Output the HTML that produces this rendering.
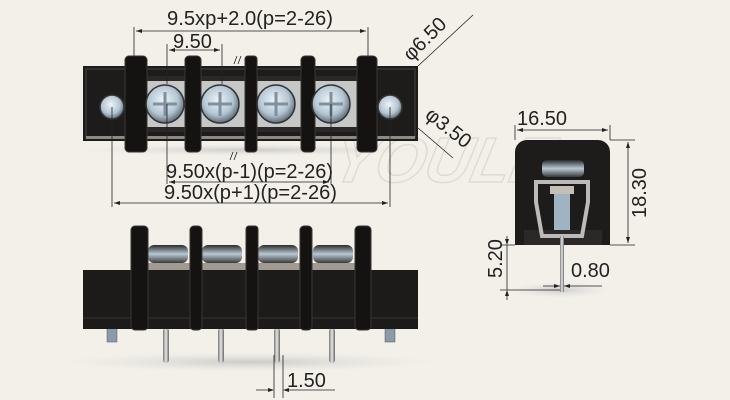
<!DOCTYPE html>
<html><head><meta charset="utf-8"><style>
html,body{margin:0;padding:0;background:#f3f0e9;}
svg{display:block}
text{font-family:"Liberation Sans",sans-serif;fill:#222;}
</style></head><body>
<svg width="730" height="400" viewBox="0 0 730 400" xmlns="http://www.w3.org/2000/svg">
<defs>
<radialGradient id="scr" cx="45%" cy="40%" r="60%"><stop offset="0" stop-color="#eef4f8"/><stop offset="0.65" stop-color="#b3c5d2"/><stop offset="1" stop-color="#5d6b76"/></radialGradient>
<linearGradient id="pin" x1="0" x2="1"><stop offset="0" stop-color="#777"/><stop offset="0.5" stop-color="#e8e8e8"/><stop offset="1" stop-color="#666"/></linearGradient>
<linearGradient id="head" x1="0" y1="0" x2="0" y2="1"><stop offset="0" stop-color="#2a2a2a"/><stop offset="0.5" stop-color="#b8c8d4"/><stop offset="1" stop-color="#3a3a3a"/></linearGradient>
<radialGradient id="shadow" cx="50%" cy="50%" r="50%"><stop offset="0" stop-color="#bbb" stop-opacity="0.7"/><stop offset="1" stop-color="#ddd" stop-opacity="0"/></radialGradient>
</defs>

<!-- watermark -->
<text x="330" y="182" font-size="64" font-style="italic" font-weight="bold" style="fill:none;stroke:#dedbd4;stroke-width:1.5" transform="skewX(-12) translate(38,0)">YOULE</text>

<!-- TOP VIEW -->
<ellipse cx="250" cy="150" rx="180" ry="6" fill="url(#shadow)"/>
<rect x="83" y="66" width="335" height="75" fill="#1e1c1b"/>
<rect x="86" y="69" width="329" height="69" fill="none" stroke="#444" stroke-width="1"/>
<rect x="86" y="136" width="329" height="3" fill="#8d8a86"/>
<g fill="#c6c8c8">
<rect x="146" y="78" width="40" height="52"/><rect x="200" y="78" width="46" height="52"/>
<rect x="256" y="78" width="46" height="52"/><rect x="314" y="78" width="44" height="52"/>
</g>
<g fill="#2a2726">
<rect x="146" y="76" width="212" height="5"/><rect x="146" y="127" width="212" height="5"/>
</g>
<g fill="#151312" stroke="#3a3634" stroke-width="1">
<rect x="125" y="56" width="22" height="96" rx="4"/>
<rect x="185" y="56" width="16" height="96" rx="4"/>
<rect x="245" y="56" width="12" height="96" rx="3"/>
<rect x="301" y="56" width="14" height="96" rx="4"/>
<rect x="357" y="56" width="20" height="96" rx="4"/>
</g>
<g stroke="#333" stroke-width="1.5">
<circle cx="112" cy="107" r="12" fill="url(#scr)"/>
<circle cx="390" cy="107" r="12" fill="url(#scr)"/>
<circle cx="165" cy="104" r="19" fill="url(#scr)"/>
<circle cx="220" cy="104" r="19" fill="url(#scr)"/>
<circle cx="276" cy="104" r="19" fill="url(#scr)"/>
<circle cx="331" cy="104" r="19" fill="url(#scr)"/>
</g>
<g stroke="#7f909e" stroke-width="3">
<path d="M165 92v24M153 104h24M220 92v24M208 104h24M276 92v24M264 104h24M331 92v24M319 104h24"/>
</g>

<!-- dims top -->
<g stroke="#222" stroke-width="0.8" fill="none">
<path d="M134 27v30M368 27v30M136 31h230"/>
<path d="M167 44v40M222 44v40M169 50h51"/>
<path d="M167 104v80M331 104v80M169 182h160"/>
<path d="M112 107v100M390 107v100M114 203h274"/>
<path d="M418 66l55-51M418 128l35 30"/>
<path d="M234 64l3-8M238 64l3-8M230 160l3-8M234 160l3-8"/>
</g>
<path d="M136 31l6-2v4zM366 31l-6-2v4zM169 50l6-2v4zM220 50l-6-2v4zM169 182l6-2v4zM329 182l-6-2v4zM114 203l6-2v4zM388 203l-6-2v4z" fill="#222"/>
<text x="167" y="25" font-size="20" textLength="166" lengthAdjust="spacingAndGlyphs">9.5xp+2.0(p=2-26)</text>
<text x="173" y="48" font-size="20">9.50</text>
<text x="166" y="178" font-size="20" textLength="167" lengthAdjust="spacingAndGlyphs">9.50x(p-1)(p=2-26)</text>
<text x="164" y="199" font-size="20" textLength="173" lengthAdjust="spacingAndGlyphs">9.50x(p+1)(p=2-26)</text>
<text x="0" y="0" font-size="20" transform="translate(411,62) rotate(-45)">φ6.50</text>
<text x="0" y="0" font-size="20" transform="translate(424,117) rotate(38)">φ3.50</text>

<!-- BOTTOM VIEW -->
<ellipse cx="250" cy="362" rx="190" ry="10" fill="url(#shadow)"/>
<g fill="url(#pin)">
<rect x="163" y="328" width="6" height="35" rx="3"/><rect x="218" y="328" width="6" height="35" rx="3"/>
<rect x="274" y="328" width="6" height="35" rx="3"/><rect x="329" y="328" width="6" height="35" rx="3"/>
</g>
<g fill="#8a9aa6" stroke="#556" stroke-width="0.5">
<rect x="107" y="328" width="10" height="14"/><rect x="385" y="328" width="10" height="14"/>
</g>
<g fill="url(#head)">
<rect x="148" y="245" width="40" height="18" rx="6"/><rect x="202" y="245" width="40" height="18" rx="6"/>
<rect x="258" y="245" width="40" height="18" rx="6"/><rect x="313" y="245" width="40" height="18" rx="6"/>
</g>
<rect x="146" y="263" width="212" height="7" fill="#a09a90"/>
<rect x="83" y="270" width="335" height="59" fill="#1d1b1a"/>
<path d="M83 318h335" stroke="#333"/>
<g fill="#151312" stroke="#3a3634" stroke-width="1">
<rect x="131" y="226" width="17" height="104" rx="4"/>
<rect x="190" y="226" width="12" height="104" rx="4"/>
<rect x="246" y="226" width="12" height="104" rx="3"/>
<rect x="300" y="226" width="12" height="104" rx="4"/>
<rect x="355" y="226" width="16" height="104" rx="4"/>
</g>
<g stroke="#222" stroke-width="0.8" fill="none">
<path d="M274 355v43M283 355v43M256 390h16M285 390h50"/>
</g>
<path d="M274 390l-6-2v4zM283 390l6-2v4z" fill="#222"/>
<text x="287" y="387" font-size="20">1.50</text>

<!-- SIDE VIEW -->
<ellipse cx="560" cy="290" rx="50" ry="8" fill="url(#shadow)"/>
<path d="M515 245V152a12 12 0 0 1 12-12h71a12 12 0 0 1 12 12v93z" fill="#1e1c1b"/>
<rect x="524" y="230" width="78" height="15" fill="#2b2827"/>
<rect x="542" y="160" width="42" height="17" rx="5" fill="url(#head)"/>
<path d="M536 182h52v20l-6 34h-40l-6-34z" fill="none" stroke="#bbb" stroke-width="4"/>
<rect x="550" y="186" width="24" height="8" fill="#c4c0b8"/>
<rect x="554" y="194" width="16" height="36" fill="#9fb3c2"/>
<rect x="560" y="236" width="4" height="56" fill="url(#pin)"/>
<g stroke="#222" stroke-width="0.8" fill="none">
<path d="M515 125v15M610 125v15M517 130h91"/>
<path d="M610 140h25M610 245h25M628 142v101"/>
<path d="M507 245v45M507 236v8M500 245h15M500 290h60M507 292v8"/>
<path d="M543 286h17M564 286h38"/>
</g>
<path d="M517 130l6-2v4zM608 130l-6-2v4zM628 142l-2 6h4zM628 243l-2-6h4zM507 245l-2-6h4zM507 290l-2 6h4zM560 286l-6-2v4zM564 286l6-2v4z" fill="#222"/>
<text x="517" y="125" font-size="20">16.50</text>
<text x="0" y="0" font-size="20" transform="translate(646,218) rotate(-90)">18.30</text>
<text x="0" y="0" font-size="20" transform="translate(502,278) rotate(-90)">5.20</text>
<text x="571" y="277" font-size="20">0.80</text>
</svg>
</body></html>
